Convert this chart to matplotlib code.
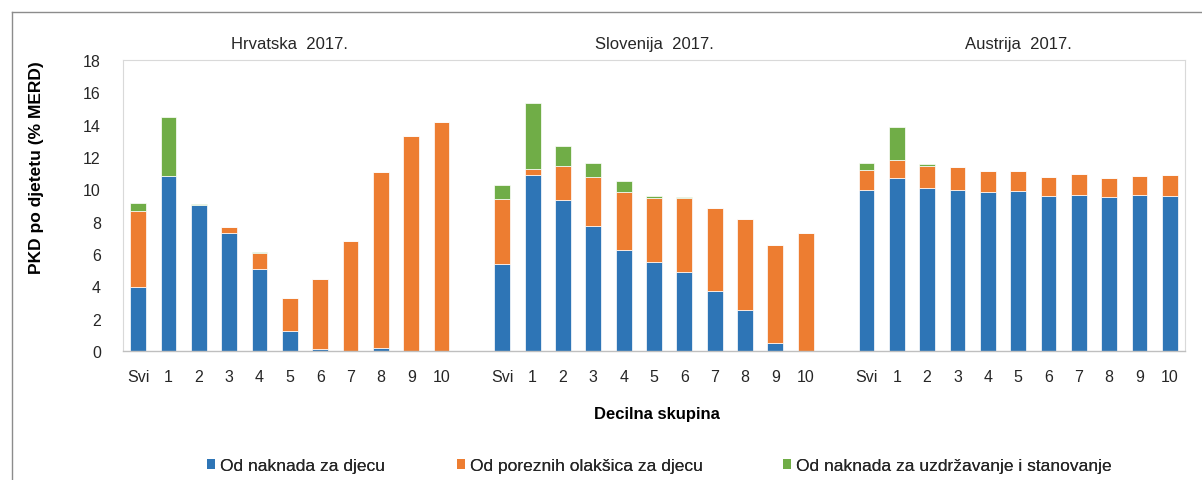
import numpy as np
import matplotlib
matplotlib.use("Agg")
import matplotlib.pyplot as plt
from matplotlib.patches import Patch
from matplotlib.lines import Line2D
from matplotlib.transforms import blended_transform_factory

plt.rcParams['font.family'] = ['Liberation Sans', 'DejaVu Sans']

# podaci (% MERD po djetetu)
countries = ['Hrvatska  2017.', 'Slovenija  2017.', 'Austrija  2017.']
deciles = ['Svi', '1', '2', '3', '4', '5', '6', '7', '8', '9', '10']
series_names = ['Od naknada za djecu', 'Od poreznih olakšica za djecu',
                'Od naknada za uzdržavanje i stanovanje']

hr_blue = [3.95, 10.84, 9.03, 7.32, 5.05, 1.24, 0.10, 0.0, 0.20, 0.0, 0.0]
hr_orange = [4.73, 0.0, 0.0, 0.35, 1.01, 2.04, 4.35, 6.82, 10.89, 13.28, 14.14]
hr_green = [0.45, 3.61, 0.06, 0.0, 0.08, 0.0, 0.0, 0.0, 0.0, 0.0, 0.0]

si_blue = [5.38, 10.90, 9.34, 7.75, 6.25, 5.52, 4.86, 3.73, 2.54, 0.52, 0.0]
si_orange = [4.02, 0.35, 2.10, 3.03, 3.58, 3.94, 4.60, 5.13, 5.60, 6.01, 7.30]
si_green = [0.87, 4.09, 1.24, 0.85, 0.68, 0.15, 0.06, 0.0, 0.0, 0.0, 0.0]

at_blue = [9.98, 10.72, 10.06, 9.98, 9.85, 9.91, 9.59, 9.67, 9.54, 9.67, 9.59]
at_orange = [1.24, 1.09, 1.38, 1.40, 1.26, 1.24, 1.19, 1.30, 1.18, 1.17, 1.31]
at_green = [0.41, 2.06, 0.12, 0.0, 0.0, 0.0, 0.0, 0.0, 0.0, 0.0, 0.0]

groups = [(hr_blue, hr_orange, hr_green),
          (si_blue, si_orange, si_green),
          (at_blue, at_orange, at_green)]

COLORS = ['#2E75B6', '#ED7D31', '#70AD47']
W, H = 1202, 481

fig = plt.figure(figsize=(W / 100, H / 100), dpi=100)
ax = fig.add_axes([123 / W, 1 - 352 / H, (1185 - 123) / W, (352 - 61) / H])
title_tr = blended_transform_factory(ax.transData, fig.transFigure)

tick_pos = []
tick_lab = []
for g, (blue, orange, green) in enumerate(groups):
    x = np.arange(len(deciles)) + g * (len(deciles) + 1)
    blue = np.array(blue)
    orange = np.array(orange)
    green = np.array(green)
    ax.bar(x, blue, width=0.52, color=COLORS[0], edgecolor='white', linewidth=0.5)
    ax.bar(x, orange, width=0.52, bottom=blue, color=COLORS[1], edgecolor='white', linewidth=0.5)
    ax.bar(x, green, width=0.52, bottom=blue + orange, color=COLORS[2], edgecolor='white', linewidth=0.5)
    tick_pos += list(x)
    tick_lab += deciles
    # naslov skupine
    ax.text(x.mean(), 1 - 45 / H, countries[g], transform=title_tr,
            ha='center', va='center', fontsize=12, color='#262626')

ax.set_xlim(-0.5, 3 * len(deciles) + 1.5)
ax.set_ylim(0, 18)
ax.set_yticks(np.arange(0, 19, 2))
ax.set_xticks(tick_pos)
ax.set_xticklabels(tick_lab)
ax.tick_params(axis='both', length=0, labelsize=11.5, labelcolor='#262626')
ax.tick_params(axis='x', pad=13)
ax.tick_params(axis='y', pad=16)

for side in ['top', 'right', 'left']:
    ax.spines[side].set_color('#D9D9D9')
    ax.spines[side].set_linewidth(0.8)
ax.spines['bottom'].set_color('#BFBFBF')
ax.spines['bottom'].set_linewidth(1.0)

fig.text(37 / W, 1 - 168 / H, 'PKD po djetetu (% MERD)', rotation=90,
         ha='center', va='center', fontsize=12.5, fontweight='bold', color='#000000')
fig.text(657 / W, 1 - 415 / H, 'Decilna skupina', ha='center', va='center',
         fontsize=12, fontweight='bold', color='#000000')

# legenda
leg_x = [198, 448, 774]
for i, name in enumerate(series_names):
    h = Patch(facecolor=COLORS[i], edgecolor='none')
    leg = fig.legend(handles=[h], labels=[name], loc='center left',
                     bbox_to_anchor=(leg_x[i] / W, 1 - 467 / H), frameon=False,
                     handlelength=0.5, handleheight=0.5, handletextpad=0.25,
                     borderpad=0, fontsize=12.5)
    for t in leg.get_texts():
        t.set_color('#262626')
    fig.add_artist(leg)

# okvir slike
fig.add_artist(Line2D([12 / W, 1], [1 - 13 / H, 1 - 13 / H], transform=fig.transFigure,
                      color='#8C8C8C', linewidth=1.0))
fig.add_artist(Line2D([12 / W, 12 / W], [1 - 13 / H, 0], transform=fig.transFigure,
                      color='#8C8C8C', linewidth=1.0))

plt.savefig('out.png', dpi=100)
plt.close()
